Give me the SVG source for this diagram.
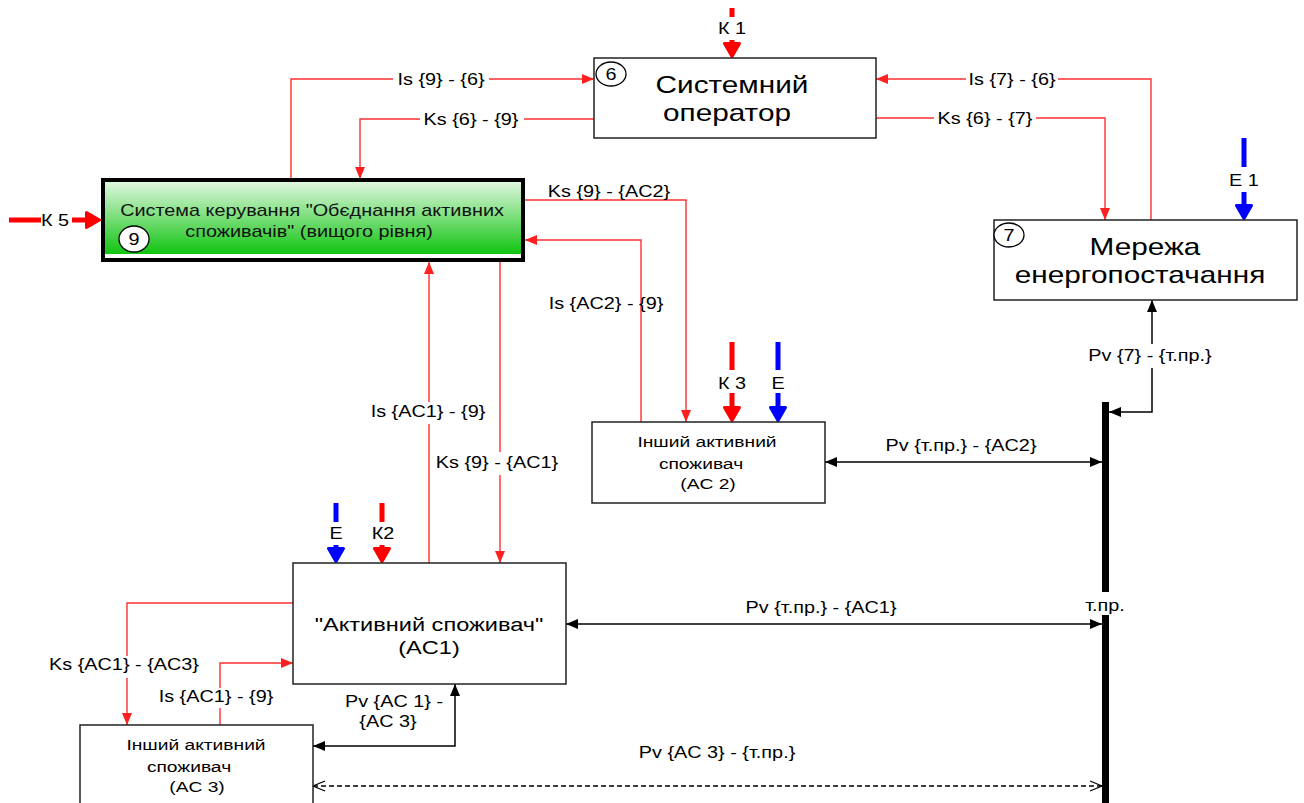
<svg xmlns="http://www.w3.org/2000/svg" width="1304" height="803" viewBox="0 0 1304 803">
<style>
text{font-family:"Liberation Sans",Arial,sans-serif;fill:#000;text-anchor:middle}
.l{font-size:16px}
.m{font-size:15.5px}
.b{font-size:24px}
.a{font-size:19px}
.g{font-size:16px;fill:#111}
.box{fill:#fff;stroke:#222;stroke-width:1.5}
.red{fill:none;stroke:#ff3030;stroke-width:1.4}
.blk{fill:none;stroke:#000;stroke-width:1.5}
.kr{fill:none;stroke:#ff0000;stroke-width:5}
.kb{fill:none;stroke:#0000ff;stroke-width:5}
.num{fill:#fff;stroke:#000;stroke-width:1.3}
</style>
<defs>
<linearGradient id="grn" x1="0" y1="0" x2="0" y2="1">
<stop offset="0" stop-color="#e4f8e4"/>
<stop offset="1" stop-color="#00c000"/>
</linearGradient>
<marker id="ar" markerUnits="userSpaceOnUse" markerWidth="12" markerHeight="10" viewBox="0 0 12 10" refX="12" refY="5" orient="auto"><path d="M0,0 L12,5 L0,10 z" fill="#ff2020"/></marker>
<marker id="ab" markerUnits="userSpaceOnUse" markerWidth="12" markerHeight="10" viewBox="0 0 12 10" refX="12" refY="5" orient="auto-start-reverse"><path d="M0,0 L12,5 L0,10 z" fill="#000"/></marker>
<marker id="ao" markerUnits="userSpaceOnUse" markerWidth="14" markerHeight="12" viewBox="0 0 14 12" refX="13" refY="6" orient="auto-start-reverse"><path d="M1,1 L13,6 L1,11" fill="none" stroke="#000" stroke-width="1.2"/></marker>
<marker id="fr" markerUnits="userSpaceOnUse" markerWidth="16" markerHeight="18" viewBox="0 0 16 18" refX="6" refY="9" orient="auto"><path d="M1.5,1.5 L14.5,9 L1.5,16.5 z" fill="#ff0000" stroke="#ff0000" stroke-width="3" stroke-linejoin="round"/></marker>
<marker id="fb" markerUnits="userSpaceOnUse" markerWidth="16" markerHeight="18" viewBox="0 0 16 18" refX="6" refY="9" orient="auto"><path d="M1.5,1.5 L14.5,9 L1.5,16.5 z" fill="#0000ff" stroke="#0000ff" stroke-width="3" stroke-linejoin="round"/></marker>
</defs>

<g id="connectors">
<path class="red" d="M291,180 V79 H393 M489,79 H594" marker-end="url(#ar)"/>
<path class="red" d="M594,119 H524 M420,119 H360 V179" marker-end="url(#ar)"/>
<path class="red" d="M1151,220 V79 H1058 M966,79 H876" marker-end="url(#ar)"/>
<path class="red" d="M876,118 H934 M1036,118 H1105 V220" marker-end="url(#ar)"/>
<path class="red" d="M525,200 H686 V422" marker-end="url(#ar)"/>
<path class="red" d="M641,422 V240 H525" marker-end="url(#ar)"/>
<path class="red" d="M429,563 V424 M429,402 V262" marker-end="url(#ar)"/>
<path class="red" d="M500,262 V452 M500,475 V563" marker-end="url(#ar)"/>
<path class="red" d="M293,603 H127 V656 M127,678 V725" marker-end="url(#ar)"/>
<path class="red" d="M220,725 V708 M220,688 V663 H293" marker-end="url(#ar)"/>

<path class="blk" d="M1152,368 V412 H1109" marker-end="url(#ab)"/>
<path class="blk" d="M1152,344 V300" marker-end="url(#ab)"/>
<path class="blk" d="M825,462 H1102" marker-start="url(#ab)" marker-end="url(#ab)"/>
<path class="blk" d="M566,624 H1102" marker-start="url(#ab)" marker-end="url(#ab)"/>
<path class="blk" d="M455,684 V746 H313" marker-start="url(#ab)" marker-end="url(#ab)"/>
<path class="blk" d="M313,786 H1102" stroke-dasharray="5,3" marker-start="url(#ao)" marker-end="url(#ao)"/>

<path class="kr" d="M732,8 V17 M732,40 V48" marker-end="url(#fr)"/>
<path class="kb" d="M1244,138 V167 M1244,192 V210" marker-end="url(#fb)"/>
<path class="kr" d="M9,220 H41 M72,220 H91" marker-end="url(#fr)"/>
<path class="kr" d="M732,342 V370 M732,393 V412" marker-end="url(#fr)"/>
<path class="kb" d="M778,342 V370 M778,393 V412" marker-end="url(#fb)"/>
<path class="kb" d="M336,503 V522 M336,545 V553" marker-end="url(#fb)"/>
<path class="kr" d="M382,503 V522 M382,545 V553" marker-end="url(#fr)"/>
</g>

<g id="labels">
<text class="l" transform="translate(732 34) scale(1.24 1)">К 1</text>
<text class="l" transform="translate(441 84.5) scale(1.24 1)">Is {9} - {6}</text>
<text class="l" transform="translate(471 124.5) scale(1.24 1)">Ks {6} - {9}</text>
<text class="l" transform="translate(1012 84.5) scale(1.24 1)">Is {7} - {6}</text>
<text class="l" transform="translate(985 124) scale(1.24 1)">Ks {6} - {7}</text>
<text class="l" transform="translate(1244 185.5) scale(1.24 1)">E 1</text>
<text class="l" transform="translate(55 225.5) scale(1.24 1)">К 5</text>
<text class="l" transform="translate(609 197) scale(1.24 1)">Ks {9} - {AC2}</text>
<text class="l" transform="translate(606 308.5) scale(1.24 1)">Is {AC2} - {9}</text>
<text class="l" transform="translate(732 388.5) scale(1.24 1)">К 3</text>
<text class="l" transform="translate(778 388.5) scale(1.24 1)">E</text>
<text class="l" transform="translate(1150 361) scale(1.24 1)">Pv {7} - {т.пр.}</text>
<text class="l" transform="translate(961 451) scale(1.24 1)">Pv {т.пр.} - {AC2}</text>
<text class="l" transform="translate(428 417) scale(1.24 1)">Is {AC1} - {9}</text>
<text class="l" transform="translate(497 468) scale(1.24 1)">Ks {9} - {AC1}</text>
<text class="l" transform="translate(336 538.5) scale(1.24 1)">E</text>
<text class="l" transform="translate(383 538.5) scale(1.24 1)">К2</text>
<text class="l" transform="translate(821 613) scale(1.24 1)">Pv {т.пр.} - {AC1}</text>
<text class="l" transform="translate(1105 611) scale(1.24 1)">т.пр.</text>
<text class="l" transform="translate(124 669.5) scale(1.24 1)">Ks {AC1} - {AC3}</text>
<text class="l" transform="translate(216 701.5) scale(1.24 1)">Is {AC1} - {9}</text>
<text class="l" transform="translate(394 706.5) scale(1.24 1)">Pv {AC 1} -</text>
<text class="l" transform="translate(388 726.5) scale(1.24 1)">{AC 3}</text>
<text class="l" transform="translate(717 758) scale(1.24 1)">Pv {AC 3} - {т.пр.}</text>
</g>

<g id="bus">
<rect x="1102" y="402" width="7" height="190" fill="#000"/>
<rect x="1102" y="615" width="7" height="188" fill="#000"/>
</g>

<g id="node6">
<rect class="box" x="594" y="58" width="282" height="80"/>
<ellipse class="num" cx="611" cy="74" rx="15" ry="12"/>
<text class="l" transform="translate(611 80) scale(1.24 1)">6</text>
<text class="b" transform="translate(732 93) scale(1.24 1)">Системний</text>
<text class="b" transform="translate(727 121) scale(1.24 1)">оператор</text>
</g>

<g id="node7">
<rect class="box" x="994" y="220" width="303" height="80"/>
<ellipse class="num" cx="1009" cy="235" rx="15" ry="12"/>
<text class="l" transform="translate(1009 241) scale(1.24 1)">7</text>
<text class="b" transform="translate(1145 255) scale(1.24 1)">Мережа</text>
<text class="b" transform="translate(1140 283) scale(1.24 1)">енергопостачання</text>
</g>

<g id="node9">
<rect x="103" y="180" width="420" height="80" fill="url(#grn)"/>
<rect x="103" y="254" width="420" height="4" fill="#fff"/>
<rect x="103" y="180" width="420" height="80" fill="none" stroke="#000" stroke-width="4"/>
<text class="g" transform="translate(312 216) scale(1.24 1)">Система керування "Обєднання активних</text>
<text class="g" transform="translate(309 237) scale(1.24 1)">споживачів" (вищого рівня)</text>
<ellipse class="num" cx="134" cy="239" rx="15" ry="13"/>
<text class="l" transform="translate(134 245) scale(1.24 1)">9</text>
</g>

<g id="nodeAC2">
<rect class="box" x="592" y="422" width="233" height="81"/>
<text class="m" transform="translate(707 447) scale(1.24 1)">Інший активний</text>
<text class="m" transform="translate(701 469) scale(1.24 1)">споживач</text>
<text class="m" transform="translate(708 489) scale(1.24 1)">(AC 2)</text>
</g>

<g id="nodeAC1">
<rect class="box" x="293" y="563" width="273" height="121"/>
<text class="a" transform="translate(429 631) scale(1.24 1)">"Активний споживач"</text>
<text class="a" transform="translate(429 654) scale(1.24 1)">(AC1)</text>
</g>

<g id="nodeAC3">
<rect class="box" x="80" y="725" width="233" height="100"/>
<text class="m" transform="translate(196 750) scale(1.24 1)">Інший активний</text>
<text class="m" transform="translate(189 772) scale(1.24 1)">споживач</text>
<text class="m" transform="translate(197 792) scale(1.24 1)">(AC 3)</text>
</g>
</svg>
